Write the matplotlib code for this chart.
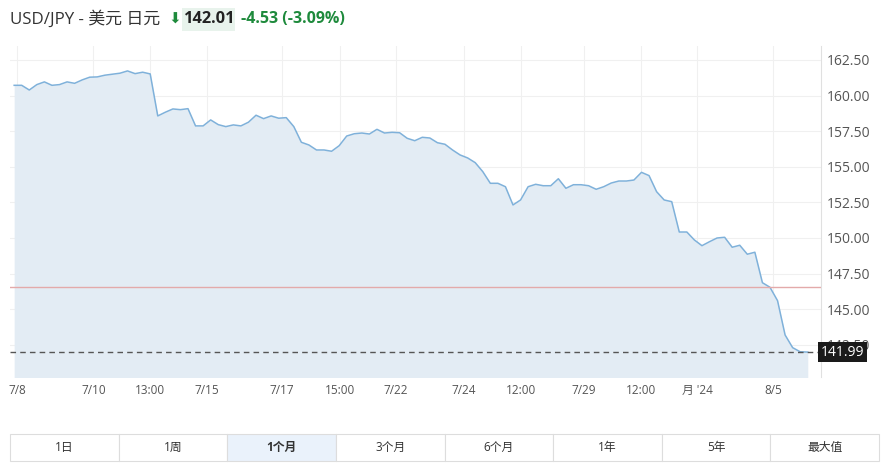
import matplotlib
matplotlib.use("Agg")
import matplotlib.pyplot as plt
from matplotlib.patches import Rectangle
import numpy as np

plt.rcParams['font.family'] = ['Open Sans', 'Noto Sans CJK SC', 'DejaVu Sans']

# USD/JPY 1个月 收盘价 (读自图片)
prices = [160.72, 160.72, 160.39, 160.77, 160.96, 160.72, 160.77, 160.96, 160.86, 161.10,
          161.29, 161.31, 161.43, 161.50, 161.57, 161.73, 161.54, 161.64, 161.52, 158.57,
          158.83, 159.06, 159.01, 159.08, 157.87, 157.87, 158.29, 157.96, 157.82, 157.94,
          157.87, 158.13, 158.62, 158.38, 158.57, 158.41, 158.45, 157.82, 156.72, 156.53,
          156.18, 156.18, 156.09, 156.48, 157.16, 157.32, 157.37, 157.30, 157.63, 157.37,
          157.42, 157.39, 157.00, 156.83, 157.07, 157.02, 156.69, 156.58, 156.18, 155.83,
          155.62, 155.29, 154.66, 153.84, 153.84, 153.60, 152.32, 152.67, 153.60, 153.77,
          153.67, 153.67, 154.16, 153.49, 153.74, 153.74, 153.67, 153.42, 153.60, 153.86,
          154.00, 154.00, 154.07, 154.61, 154.38, 153.25, 152.67, 152.55, 150.42, 150.42,
          149.86, 149.46, 149.74, 150.00, 150.05, 149.35, 149.49, 148.86, 149.00, 146.86,
          146.54, 145.60, 143.19, 142.30, 142.01, 141.99]

tick_pos = [0.42, 10.48, 17.99, 25.5, 35.44, 43.07, 50.54, 59.49, 67.0, 75.38, 82.89, 90.4, 100.42]
tick_labels = ['7/8', '7/10', '13:00', '7/15', '7/17', '15:00', '7/22', '7/24', '12:00',
               '7/29', '12:00', "月 '24", '8/5']
y_ticks = [142.5, 145.0, 147.5, 150.0, 152.5, 155.0, 157.5, 160.0, 162.5]

prev_close = 146.54
last_price = 141.99
buttons = ['1日', '1周', '1个月', '3个月', '6个月', '1年', '5年', '最大值']
active = '1个月'

W, H = 884, 470
fig = plt.figure(figsize=(W / 100, H / 100), dpi=100)


def fx(px):
    return px / W


def fy(py):
    return 1 - py / H


ax = fig.add_axes([fx(10), fy(377), fx(821) - fx(10), fy(46) - fy(377)])
x = np.arange(len(prices))
ax.fill_between(x, prices, 130, color='#e3ecf4', lw=0)
ax.plot(x, prices, color='#7fb1da', lw=1.1)
ax.axhline(prev_close, color='#e3aaaa', lw=1)
ax.axhline(last_price, color='#555555', lw=1, ls=(0, (4, 3)))

ax.set_xlim(-0.55, 106.75)
ax.set_ylim(140.24, 163.48)
ax.set_xticks(tick_pos)
ax.set_xticklabels(tick_labels, fontsize=8.5)
ax.set_yticks(y_ticks)
ax.set_yticklabels(['%.2f' % v for v in y_ticks], fontsize=10)
ax.yaxis.tick_right()
ax.tick_params(axis='both', length=0, colors='#555555')
ax.tick_params(axis='x', pad=5)
ax.tick_params(axis='y', pad=4)
ax.grid(True, color='#f0f0f0', lw=0.8)
ax.set_axisbelow(True)
for s in ['top', 'left', 'bottom']:
    ax.spines[s].set_visible(False)
ax.spines['right'].set_color('#e0e0e0')

# 最新价标签
ax.text(1.0, last_price, '%.2f' % last_price, transform=ax.get_yaxis_transform(),
        ha='left', va='center', color='white', fontsize=10, zorder=5,
        bbox=dict(boxstyle='square,pad=0.2', fc='#1a1a1a', ec='none'), clip_on=False)

# 标题
fig.text(fx(10), fy(19), 'USD/JPY - 美元 日元', fontsize=12.2, color='#333333',
         ha='left', va='center')
fig.text(fx(168), fy(19), '⬇', fontsize=11, color='#1e8a3c', ha='left', va='center',
         family='DejaVu Sans')
fig.patches.append(Rectangle((fx(182), fy(31)), fx(53), fy(8) - fy(31),
                             transform=fig.transFigure, fc='#e8f3ec', ec='none'))
fig.text(fx(184), fy(19), '142.01', fontsize=11.8, color='#222222', fontweight='bold',
         ha='left', va='center')
fig.text(fx(241), fy(19), '-4.53 (-3.09%)', fontsize=11.5, color='#1e8a3c',
         fontweight='bold', ha='left', va='center')

# 时间范围按钮
bx0, bx1, by0, by1 = 10, 879, 434, 461
bw = (bx1 - bx0) / len(buttons)
for i, b in enumerate(buttons):
    left = bx0 + i * bw
    fc = '#eaf2fb' if b == active else 'white'
    fig.patches.append(Rectangle((fx(left), fy(by1)), fx(bw), fy(by0) - fy(by1),
                                 transform=fig.transFigure, fc=fc, ec='#dddddd', lw=0.8))
    fig.text(fx(left + bw / 2), fy((by0 + by1) / 2), b, fontsize=8.5, color='#333333',
             ha='center', va='center', fontweight='bold' if b == active else 'normal')

fig.savefig('out.png', dpi=100)
